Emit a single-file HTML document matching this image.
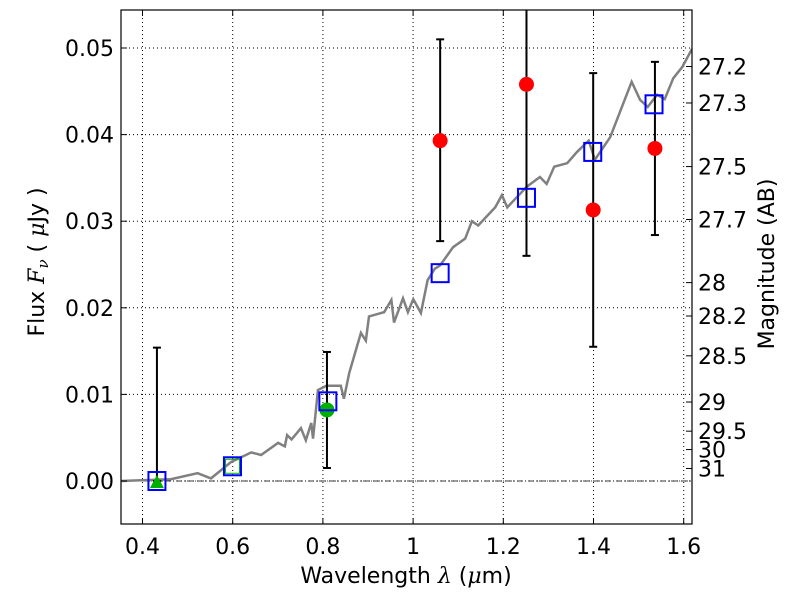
<!DOCTYPE html>
<html><head><meta charset="utf-8"><style>
body{margin:0;background:#fff;}
svg{display:block;font-family:"DejaVu Sans","Liberation Sans",sans-serif;}
</style></head><body>
<svg id="chart" width="800" height="600" viewBox="0 0 800 600"></svg>
<script>
const specX=[0.351,0.4626,0.5222,0.5519,0.5966,0.6412,0.6630,0.7007,0.7156,0.7206,0.7305,0.7513,0.7622,0.7742,0.7781,0.7890,0.8079,0.8396,0.8466,0.8585,0.8843,0.8952,0.9022,0.9359,0.9518,0.9577,0.9776,0.9885,1.0004,1.0173,1.0322,1.0480,1.0599,1.0887,1.1155,1.1304,1.1443,1.1820,1.1969,1.2088,1.2524,1.2812,1.2961,1.3129,1.3417,1.3635,1.3893,1.4032,1.4370,1.4846,1.5034,1.5203,1.5411,1.5580,1.5768,1.5967,1.6185];
const specY=[0,0.0002,0.0009,0.0003,0.0022,0.0033,0.003,0.0044,0.004,0.0053,0.0048,0.0061,0.0047,0.0067,0.0049,0.0105,0.011,0.011,0.0095,0.0125,0.0171,0.0162,0.019,0.0195,0.0209,0.0183,0.0211,0.0195,0.021,0.0194,0.0232,0.0245,0.0249,0.027,0.028,0.030,0.0295,0.0316,0.033,0.0316,0.034,0.0351,0.0343,0.0363,0.0367,0.038,0.0393,0.0371,0.0397,0.0461,0.044,0.0432,0.0446,0.0441,0.0465,0.0478,0.0499];
const modelX=[0.432,0.5995,0.811,1.060,1.2514,1.3983,1.5342];
const modelY=[0.0000,0.0017,0.0092,0.0240,0.0327,0.0380,0.0435];
const redX=[1.060,1.2514,1.3993,1.5362];
const redY=[0.0393,0.0458,0.0313,0.0384];
const redLo=[0.0277,0.026,0.0155,0.0284];
const redHi=[0.0510,0.0656,0.0471,0.0484];
const grnX=[0.432,0.5995,0.809];
const grnY=[0.0000,0.0017,0.0082];
const grnLo=[0.0,null,0.0015];
const grnHi=[0.0154,null,0.0149];
const grnShape=['triangle','square','circle'];
const xTicks=[0.4,0.6,0.8,1.0,1.2,1.4,1.6];
const xLabels=['0.4','0.6','0.8','1','1.2','1.4','1.6'];
const yTicks=[0,0.01,0.02,0.03,0.04,0.05];
const yLabels=['0.00','0.01','0.02','0.03','0.04','0.05'];
const magTicks=[27.2,27.3,27.5,27.7,28,28.2,28.5,29,29.5,30,31];
const magLabels=['27.2','27.3','27.5','27.7','28','28.2','28.5','29','29.5','30','31'];

const L=121,R=692,T=10,B=524;
const X=v=>142.5+(v-0.4)*451;
const Y=v=>481-v*8660;
const svg=document.getElementById('chart');
const NS='http://www.w3.org/2000/svg';
function mk(tag,attrs,parent){const e=document.createElementNS(NS,tag);for(const k in attrs)e.setAttribute(k,attrs[k]);(parent||svg).appendChild(e);return e;}
const cp=mk('clipPath',{id:'cp'});
mk('rect',{x:L,y:T,width:R-L,height:B-T},cp);

xTicks.forEach(v=>{const g=mk('line',{x1:X(v),x2:X(v),y1:T,y2:B,stroke:'#000','stroke-width':1,'stroke-dasharray':'1,3'});
});
yTicks.forEach(v=>{const g=mk('line',{x1:L,x2:R,y1:Y(v),y2:Y(v),stroke:'#000','stroke-width':1,'stroke-dasharray':'1,3'});
});
const zl=mk('line',{x1:L,x2:R,y1:Y(0),y2:Y(0),stroke:'#000','stroke-width':0.8,'stroke-dasharray':'6,2,1,2'});


const plot=mk('g',{'clip-path':'url(#cp)'});

const sp=mk('polyline',{points:specX.map((x,i)=>X(x)+','+Y(specY[i])).join(' '),fill:'none',stroke:'#808080','stroke-width':2.5},plot);

function ebar(x,lo,hi,name){const g=mk('g',{},plot);
mk('line',{x1:X(x),x2:X(x),y1:Y(lo),y2:Y(hi),stroke:'#000','stroke-width':2},g);
[lo,hi].forEach(v=>mk('line',{x1:X(x)-4,x2:X(x)+4,y1:Y(v),y2:Y(v),stroke:'#000','stroke-width':2},g));}
redX.forEach((x,i)=>ebar(x,redLo[i],redHi[i],'red-error-bar'));
grnX.forEach((x,i)=>{if(grnLo[i]!==null)ebar(x,grnLo[i],grnHi[i],'green-error-bar');});
grnX.forEach((x,i)=>{let m;const cx=X(x),cy=Y(grnY[i]);
if(grnShape[i]==='circle')m=mk('circle',{cx:cx,cy:cy,r:7.5,fill:'#00b000'},plot);
else if(grnShape[i]==='triangle')m=mk('polygon',{points:`${cx},${cy-6} ${cx-7},${cy+7} ${cx+7},${cy+7}`,fill:'#00b000'},plot);
else m=mk('rect',{x:cx-7,y:cy-7,width:14,height:14,fill:'none',stroke:'#00b000','stroke-width':1},plot);
});
redX.forEach((x,i)=>{const m=mk('circle',{cx:X(x),cy:Y(redY[i]),r:7.5,fill:'#ff0000'},plot);
});
modelX.forEach((x,i)=>{const m=mk('rect',{x:X(x)-8.5,y:Y(modelY[i])-9,width:17,height:18,fill:'none',stroke:'#0000ff','stroke-width':2},plot);
});

const fr=mk('rect',{x:L,y:T,width:R-L,height:B-T,fill:'none',stroke:'#000','stroke-width':1.2});

xTicks.forEach((v,i)=>{mk('line',{x1:X(v),x2:X(v),y1:B,y2:B-6,stroke:'#000'});mk('line',{x1:X(v),x2:X(v),y1:T,y2:T+6,stroke:'#000'});
const t=mk('text',{x:X(v),y:B+30,'text-anchor':'middle','font-size':22});t.textContent=xLabels[i];
});
yTicks.forEach((v,i)=>{mk('line',{x1:L,x2:L+6,y1:Y(v),y2:Y(v),stroke:'#000'});
const t=mk('text',{x:L-7,y:Y(v)+8,'text-anchor':'end','font-size':22});t.textContent=yLabels[i];
});
magTicks.forEach((m,i)=>{const y=Y(Math.pow(10,(23.9-m)/2.5));mk('line',{x1:R-6,x2:R,y1:y,y2:y,stroke:'#000'});
const t=mk('text',{x:R+6,y:y+8,'font-size':22});t.textContent=magLabels[i];
});
</script>
<div style="position:absolute;left:0;top:0;width:800px;height:600px;pointer-events:none;">
<svg width="800" height="600" style="position:absolute;left:0;top:0;font-family:'DejaVu Sans','Liberation Sans',sans-serif;">
<text x="406" y="583" text-anchor="middle" font-size="22">Wavelength  <tspan font-style="italic" font-family="DejaVu Serif,serif">λ</tspan> (<tspan font-style="italic" font-family="DejaVu Serif,serif">μ</tspan>m)</text>
<text transform="translate(44,262) rotate(-90)" text-anchor="middle" font-size="22">Flux  <tspan font-style="italic" font-family="DejaVu Serif,serif">F</tspan><tspan font-style="italic" font-family="DejaVu Serif,serif" font-size="15" dy="4">ν</tspan><tspan dy="-4">  (  </tspan><tspan font-style="italic" font-family="DejaVu Serif,serif">μ</tspan>Jy )</text>
<text transform="translate(774,264) rotate(-90)" text-anchor="middle" font-size="22">Magnitude (AB)</text>
</svg></div>
</body></html>
